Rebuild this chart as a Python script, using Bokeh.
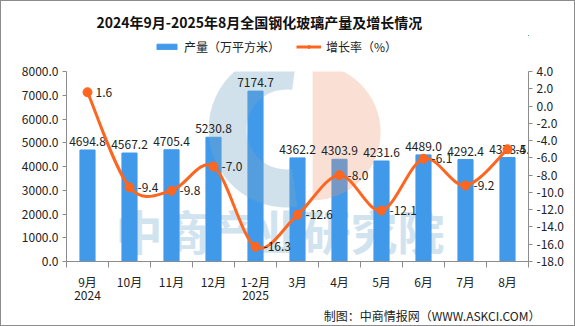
from bokeh.plotting import figure
from bokeh.layouts import column
from bokeh.models import (Range1d, LinearAxis, FixedTicker, NumeralTickFormatter,
                          Legend, LegendItem, ColumnDataSource, Title, Label)
from bokeh.core.properties import value
from bokeh.embed import file_html
from bokeh.resources import INLINE
import math

months = ["9月\n2024", "10月", "11月", "12月", "1-2月\n2025", "3月", "4月", "5月", "6月", "7月", "8月"]
output = [4694.8, 4567.2, 4705.4, 5230.8, 7174.7, 4362.2, 4303.9, 4231.6, 4489.0, 4292.4, 4378.4]
growth = [1.6, -9.4, -9.8, -7.0, -16.3, -12.6, -8.0, -12.1, -6.1, -9.2, -5.0]

FONT = "Noto Sans CJK SC"
BLUE = "#4199ea"
ORANGE = "#fc6621"
GRAY = "#8c8c8c"

n = len(months)
xs = [i + 0.5 for i in range(n)]

# ---------- header: title + legend ----------
h = figure(width=573, height=58, output_backend="svg", toolbar_location=None,
           x_range=Range1d(-100, -99), y_range=Range1d(-100, -99),
           min_border_left=65, min_border_right=46, min_border_top=34, min_border_bottom=0)
h.axis.visible = False
h.grid.visible = False
h.outline_line_color = None
h.title = Title(text="2024年9月-2025年8月全国钢化玻璃产量及增长情况", align="left", offset=30,
                text_font=FONT, text_font_size="14px", text_font_style="bold",
                text_color="#111111", standoff=8)
lb = h.vbar(x=xs, top=output, width=0.36, color=BLUE)
ll = h.line(x=xs, y=growth, line_color=ORANGE, line_width=3)
ls = h.scatter(x=xs, y=growth, size=9, color=ORANGE)
legend = Legend(items=[LegendItem(label="产量（万平方米）", renderers=[lb]),
                       LegendItem(label="增长率（%）", renderers=[ll, ls])],
                orientation="horizontal", location=(88, 4),
                label_text_font=FONT, label_text_font_size="12px",
                label_text_color="#222222",
                glyph_width=25, glyph_height=7, spacing=16, padding=0, margin=0,
                border_line_color=None, background_fill_alpha=0)
h.add_layout(legend)

# ---------- main chart ----------
p = figure(width=573, height=266, output_backend="svg", toolbar_location=None,
           x_range=Range1d(0, n), y_range=Range1d(0, 8000),
           min_border_left=65, min_border_right=46, min_border_top=12, min_border_bottom=60)
p.outline_line_color = None
p.xgrid.visible = False
p.ygrid.visible = False
p.xaxis.visible = False
p.yaxis.visible = False
p.extra_y_ranges = {"g": Range1d(-18, 4)}

# watermark text
wm = Label(x=49, y=-2, x_units="screen", y_units="screen", text="中商产业研究院",
           text_font=FONT, text_font_size="47px", text_font_style="bold",
           text_color="#d0e3ef", level="underlay")
p.add_layout(wm)

src = ColumnDataSource(dict(x=xs, v=output, g=growth,
                            vl=["%.1f" % v for v in output], gl=["%.1f" % v for v in growth]))

p.vbar(x="x", top="v", width=0.36, source=src, color=BLUE)

# faint logo watermark (decoration)
p.annular_wedge(x=5.24, y=5560, inner_radius=40, outer_radius=78,
                inner_radius_units="screen", outer_radius_units="screen",
                start_angle=math.radians(82), end_angle=math.radians(278),
                color="#78aac8", alpha=0.35, line_alpha=0)
p.wedge(x=5.86, y=5440, radius=68, radius_units="screen",
        start_angle=math.radians(-90), end_angle=math.radians(90),
        color="#ee9870", alpha=0.3, line_alpha=0)

p.text(x="x", y="v", text="vl", source=src, text_align="center", text_baseline="bottom",
       y_offset=-4, text_font=value(FONT), text_font_size="12px", text_color="#222222")

# smooth curve (Excel-like bezier smoothing of the series)
x0, y0, x1, y1, cx0, cy0, cx1, cy1 = [], [], [], [], [], [], [], []
for i in range(n - 1):
    pa = (xs[max(i - 1, 0)], growth[max(i - 1, 0)])
    pb = (xs[i], growth[i])
    pc = (xs[i + 1], growth[i + 1])
    pd = (xs[min(i + 2, n - 1)], growth[min(i + 2, n - 1)])
    x0.append(pb[0]); y0.append(pb[1]); x1.append(pc[0]); y1.append(pc[1])
    cx0.append(pb[0] + (pc[0] - pa[0]) / 6); cy0.append(pb[1] + (pc[1] - pa[1]) / 6)
    cx1.append(pc[0] - (pd[0] - pb[0]) / 6); cy1.append(pc[1] - (pd[1] - pb[1]) / 6)
p.bezier(x0=x0, y0=y0, x1=x1, y1=y1, cx0=cx0, cy0=cy0, cx1=cx1, cy1=cy1,
         y_range_name="g", line_color=ORANGE, line_width=3)
p.scatter(x="x", y="g", source=src, y_range_name="g", size=9, color=ORANGE)
p.text(x="x", y="g", text="gl", source=src, y_range_name="g", text_align="left",
       text_baseline="middle", x_offset=8, text_font=value(FONT), text_font_size="12px",
       text_color="#222222")

def style_axis(ax):
    ax.axis_line_color = GRAY
    ax.major_tick_line_color = GRAY
    ax.major_tick_out = 4
    ax.major_tick_in = 0
    ax.minor_tick_line_color = None
    ax.major_label_text_font = FONT
    ax.major_label_text_font_size = "12px"
    ax.major_label_text_color = "#222222"
    ax.major_label_standoff = 4

left = LinearAxis(ticker=FixedTicker(ticks=list(range(0, 8001, 1000))),
                  formatter=NumeralTickFormatter(format="0.0"))
style_axis(left)
p.add_layout(left, "left")

right = LinearAxis(y_range_name="g", ticker=FixedTicker(ticks=list(range(-18, 5, 2))),
                   formatter=NumeralTickFormatter(format="0.0"))
style_axis(right)
p.add_layout(right, "right")

bottom = LinearAxis(ticker=FixedTicker(ticks=xs, minor_ticks=list(range(0, n + 1))),
                    major_label_overrides={x: m for x, m in zip(xs, months)})
style_axis(bottom)
bottom.major_tick_line_color = None
bottom.minor_tick_line_color = GRAY
bottom.minor_tick_out = 6
bottom.minor_tick_in = 0
bottom.major_label_standoff = 5
bottom.major_label_text_line_height = 0.8
p.add_layout(bottom, "below")

foot = Title(text="制图：中商情报网（WWW.ASKCI.COM）", align="right", offset=-12,
             vertical_align="top",
             text_font=FONT, text_font_size="12px", text_font_style="normal",
             text_color="#222222", standoff=0)
p.add_layout(foot, "below")

lay = column(h, p, spacing=0)
lay.styles = {"border": "1px solid #8c8c8c"}

open("out.html", "w").write(file_html(lay, INLINE))
